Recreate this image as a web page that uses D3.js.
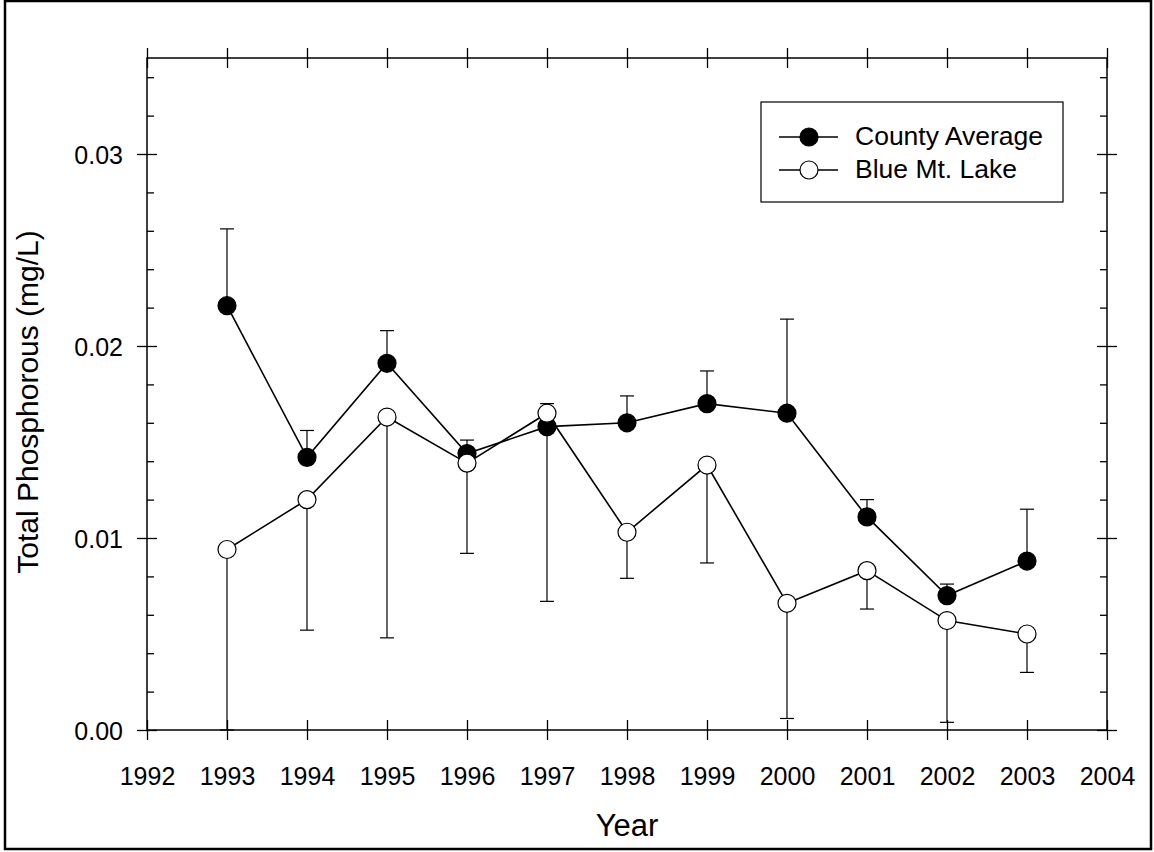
<!DOCTYPE html>
<html>
<head>
<meta charset="utf-8">
<script src="https://cdn.jsdelivr.net/npm/d3@7"></script>
<style>
  body { margin: 0; background: #fff; }
  text { font-family: "Liberation Sans", Arial, sans-serif; fill: #000; }
</style>
</head>
<body>
<div id="chart"></div>
<script>
// values
const years = [1993, 1994, 1995, 1996, 1997, 1998, 1999, 2000, 2001, 2002, 2003];
const countyAvg = [0.0221, 0.0142, 0.0191, 0.0144, 0.0158, 0.0160, 0.0170, 0.0165, 0.0111, 0.0070, 0.0088];
const countyErr = [0.0040, 0.0014, 0.0017, 0.0007, 0.0012, 0.0014, 0.0017, 0.0049, 0.0009, 0.0006, 0.0027];
const blueMt = [0.0094, 0.0120, 0.0163, 0.0139, 0.0165, 0.0103, 0.0138, 0.0066, 0.0083, 0.0057, 0.0050];
const blueErr = [0.0094, 0.0068, 0.0115, 0.0047, 0.0098, 0.0024, 0.0051, 0.0060, 0.0020, 0.0053, 0.0020];
const xTicks = [1992, 1993, 1994, 1995, 1996, 1997, 1998, 1999, 2000, 2001, 2002, 2003, 2004];
const yTicks = [0.00, 0.01, 0.02, 0.03];
const yMinor = [0.002, 0.004, 0.006, 0.008, 0.012, 0.014, 0.016, 0.018, 0.022, 0.024, 0.026, 0.028, 0.032, 0.034];
const seriesNames = ["County Average", "Blue Mt. Lake"];

const W = 1154, H = 852;
const pLeft = 147, pRight = 1107, pTop = 58, pBottom = 730;

const svg = d3.select("#chart").append("svg")
  .attr("width", W).attr("height", H);

// outer frame
svg.append("rect")
  .attr("x", 5).attr("y", 1).attr("width", 1146).attr("height", 848)
  .attr("fill", "none").attr("stroke", "#000").attr("stroke-width", 2.5);

const x = d3.scaleLinear().domain([1992, 2004]).range([pLeft, pRight]);
const y = d3.scaleLinear().domain([0, 0.035]).range([pBottom, pTop]);

function styleAxis(g) {
  g.select(".domain").remove();
  g.selectAll("line").attr("stroke", "#000").attr("stroke-width", 1.3);
  g.selectAll("text").style("font-size", "25px").style("font-family", "'Liberation Sans', Arial, sans-serif");
}

// frame of the plot
svg.append("rect")
  .attr("x", pLeft).attr("y", pTop).attr("width", pRight - pLeft).attr("height", pBottom - pTop)
  .attr("fill", "none").attr("stroke", "#000").attr("stroke-width", 1.5);

// bottom axis: ticks cross the line
const xb = svg.append("g").attr("transform", "translate(0," + (pBottom + 10) + ")")
  .call(d3.axisBottom(x).tickValues(xTicks).tickFormat(d3.format("d")).tickSize(20).tickPadding(0));
styleAxis(xb);
xb.selectAll("line").attr("y1", -20).attr("y2", 0);
xb.selectAll("text").attr("y", 27);

const xt = svg.append("g").attr("transform", "translate(0," + (pTop + 10) + ")")
  .call(d3.axisTop(x).tickValues(xTicks).tickFormat("").tickSize(20));
styleAxis(xt);

// left axis
const yl = svg.append("g").attr("transform", "translate(" + (pLeft + 10) + ",0)")
  .call(d3.axisLeft(y).tickValues(yTicks).tickFormat(d3.format(".2f")).tickSize(20).tickPadding(14));
styleAxis(yl);
yl.selectAll("text").attr("dy", "0.36em");

const ylm = svg.append("g").attr("transform", "translate(" + pLeft + ",0)")
  .call(d3.axisRight(y).tickValues(yMinor).tickFormat("").tickSize(7));
styleAxis(ylm);

// right axis
const yr = svg.append("g").attr("transform", "translate(" + (pRight - 10) + ",0)")
  .call(d3.axisRight(y).tickValues(yTicks).tickFormat("").tickSize(20));
styleAxis(yr);

const yrm = svg.append("g").attr("transform", "translate(" + pRight + ",0)")
  .call(d3.axisLeft(y).tickValues(yMinor).tickFormat("").tickSize(7));
styleAxis(yrm);

// axis titles
svg.append("text")
  .attr("x", 627).attr("y", 836)
  .attr("text-anchor", "middle").style("font-size", "31px")
  .text("Year");

svg.append("text")
  .attr("transform", "translate(38,402) rotate(-90)")
  .attr("text-anchor", "middle").style("font-size", "30px")
  .text("Total Phosphorous (mg/L)");

const plot = svg.append("g");
const capW = 7;

function drawSeries(vals, errs, dir, fill) {
  const pts = years.map((yv, i) => ({ yr: yv, v: vals[i], e: errs[i] }));

  // error bars, one-sided
  const eb = plot.append("g").attr("stroke", "#000").attr("stroke-width", 1.2);
  pts.forEach(function(d) {
    const end = Math.max(0, d.v + dir * d.e);
    eb.append("line")
      .attr("x1", x(d.yr)).attr("x2", x(d.yr))
      .attr("y1", y(d.v)).attr("y2", y(end));
    eb.append("line")
      .attr("x1", x(d.yr) - capW).attr("x2", x(d.yr) + capW)
      .attr("y1", y(end)).attr("y2", y(end));
  });

  plot.append("path")
    .datum(pts)
    .attr("fill", "none").attr("stroke", "#000").attr("stroke-width", 1.6)
    .attr("d", d3.line().x(d => x(d.yr)).y(d => y(d.v)));

  plot.selectAll(null)
    .data(pts)
    .enter().append("circle")
    .attr("cx", d => x(d.yr)).attr("cy", d => y(d.v))
    .attr("r", 9)
    .attr("fill", fill).attr("stroke", "#000").attr("stroke-width", 1.2);
}

drawSeries(countyAvg, countyErr, 1, "#000");
drawSeries(blueMt, blueErr, -1, "#fff");

// legend
const lg = svg.append("g");
lg.append("rect")
  .attr("x", 761).attr("y", 102).attr("width", 302).attr("height", 100)
  .attr("fill", "#fff").attr("stroke", "#000").attr("stroke-width", 1.2);

const fills = ["#000", "#fff"];
seriesNames.forEach(function(name, i) {
  const ly = 137 + i * 33;
  lg.append("line")
    .attr("x1", 779).attr("x2", 838).attr("y1", ly).attr("y2", ly)
    .attr("stroke", "#000").attr("stroke-width", 1.6);
  lg.append("circle")
    .attr("cx", 809).attr("cy", ly).attr("r", 9)
    .attr("fill", fills[i]).attr("stroke", "#000").attr("stroke-width", 1.2);
  lg.append("text")
    .attr("x", 855).attr("y", ly + 8)
    .style("font-size", "26.5px")
    .text(name);
});
</script>
</body>
</html>
